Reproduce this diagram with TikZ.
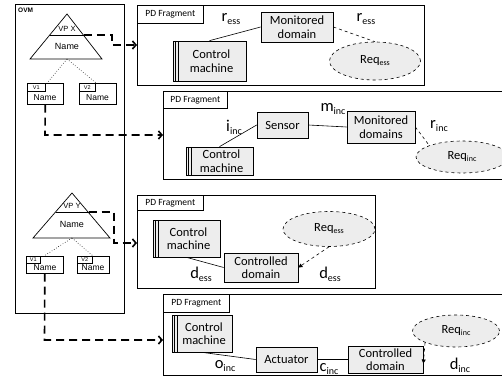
\documentclass[tikz,border=0pt]{standalone}
\usepackage{fontspec}
\setmainfont{Carlito}
\newfontfamily\ovmfont{Liberation Sans}
\usetikzlibrary{shapes.geometric,arrows.meta}
\newcommand\pdlab[2]{{\fontsize{16.5}{18}\selectfont #1}{\fontsize{10}{11}\selectfont\raisebox{-3pt}{#2}}}
\newcommand\reqlab[1]{Req{\fontsize{8}{9}\selectfont\raisebox{-2pt}{#1}}}
\begin{document}
\begin{tikzpicture}[x=1pt,y=-1pt,
  dom/.style={draw, fill=black!7, line width=0.7pt, inner sep=0.5pt, align=center,
    font=\fontsize{12.5}{13.5}\selectfont},
  mach/.style={dom, path picture={
    \draw[line width=0.6pt] ([xshift=2.6pt]path picture bounding box.north west) -- ([xshift=2.6pt]path picture bounding box.south west);
    \draw[line width=0.6pt] ([xshift=5.2pt]path picture bounding box.north west) -- ([xshift=5.2pt]path picture bounding box.south west);}},
  req/.style={ellipse, draw, dashed, fill=black!7, line width=0.6pt, inner sep=0pt,
    font=\fontsize{12.5}{14}\selectfont},
  frag/.style={draw, line width=0.8pt, anchor=north west, inner sep=0pt},
  fraglab/.style={draw, line width=0.6pt, anchor=north west, inner sep=0pt,
    font=\fontsize{9.5}{11}\selectfont},
  lab/.style={inner sep=0pt},
  link/.style={line width=0.6pt},
  dlink/.style={line width=0.6pt, dashed},
  darr/.style={line width=0.6pt, dashed, -{Triangle[length=4pt,width=4pt]}},
  big/.style={line width=1.6pt, dash pattern=on 8pt off 5pt, -{Straight Barb[length=3.5pt,width=8pt]}},
  vbox/.style={draw, line width=0.6pt, anchor=north west, inner sep=0pt},
  vtag/.style={draw, line width=0.5pt, anchor=north west, inner sep=0pt, font=\ovmfont\fontsize{5.5}{6}\selectfont},
  otext/.style={inner sep=0pt, font=\ovmfont\fontsize{8.5}{10}\selectfont},
  vdot/.style={dotted, line width=0.6pt}
]
\useasboundingbox (0,0) rectangle (502,387);

% ---------------- OVM ----------------
\node (ovm) [vbox, line width=0.8pt, minimum width=109, minimum height=309] at (15,4) {};
\node (ovmlab) [otext, anchor=north west, font=\ovmfont\bfseries\fontsize{6.5}{8}\selectfont] at (18,8) {OVM};

% triangle X
\draw[line width=0.7pt] (67,14) -- (102,59) -- (30,59) -- cycle;
\draw[line width=0.7pt] (50.2,35) -- (83.8,35);
\coordinate (vpx) at (83.8,35);
\coordinate (tx) at (67,59);
\node (vpxt) [otext, font=\ovmfont\fontsize{7.5}{8}\selectfont] at (67,28.5) {VP X};
\node (nx) [otext, font=\ovmfont\fontsize{9}{10}\selectfont] at (67,46) {Name};

\node (v1x) [vbox, minimum width=36, minimum height=21] at (27,83) {};
\node (v1xt) [vtag, minimum width=18, minimum height=8] at (27,83) {V1};
\node (v1xn) [otext] at (45,98) {Name};
\node (v2x) [vbox, minimum width=37, minimum height=21] at (79,83) {};
\node (v2xt) [vtag, minimum width=16, minimum height=8] at (79,83) {V2};
\node (v2xn) [otext] at (97.5,98) {Name};
\draw[vdot] (tx) -- (47,83);
\draw[vdot] (tx) -- (96,83);

% triangle Y
\draw[line width=0.7pt] (72,193) -- (110,238) -- (33,238) -- cycle;
\draw[line width=0.7pt] (55.5,212) -- (88.5,212);
\coordinate (vpy) at (88.5,212);
\coordinate (ty) at (72,238);
\node (vpyt) [otext, font=\ovmfont\fontsize{7.5}{8}\selectfont] at (72,205.5) {VP Y};
\node (ny) [otext, font=\ovmfont\fontsize{9}{10}\selectfont] at (72,224.5) {Name};

\node (v1y) [vbox, minimum width=37, minimum height=17] at (26,256) {};
\node (v1yt) [vtag, minimum width=14, minimum height=7] at (26,256) {V1};
\node (v1yn) [otext] at (45,267.5) {Name};
\node (v2y) [vbox, minimum width=32, minimum height=17] at (77,256) {};
\node (v2yt) [vtag, minimum width=15, minimum height=7] at (77,256) {V2};
\node (v2yn) [otext] at (93,267.5) {Name};
\draw[vdot] (ty) -- (44,256);
\draw[vdot] (ty) -- (93,256);

% ---------------- PD fragments ----------------
\node (pd1) [frag, minimum width=287, minimum height=80] at (137,5) {};
\node (pd1l) [fraglab, minimum width=66, minimum height=18] at (137,5) {PD Fragment};
\node (pd2) [frag, minimum width=342, minimum height=88] at (163,91) {};
\node (pd2l) [fraglab, minimum width=64, minimum height=17] at (163,91) {PD Fragment};
\node (pd3) [frag, minimum width=238, minimum height=93] at (137,195) {};
\node (pd3l) [fraglab, minimum width=66, minimum height=15] at (137,195) {PD Fragment};
\node (pd4) [frag, minimum width=342, minimum height=81] at (163,294) {};
\node (pd4l) [fraglab, minimum width=66, minimum height=18] at (163,294) {PD Fragment};

% PD1
\node (md1) [dom, minimum width=72, minimum height=30] at (297,27) {Monitored\\domain};
\node (cm1) [mach, minimum width=73, minimum height=40] at (209.5,61) {\hspace{4pt}Control\\\hspace{4pt}machine};
\node (rq1) [req, minimum width=91, minimum height=38] at (375,61) {\reqlab{ess}};
\node (r1a) [lab] at (231,19) {\pdlab{r}{ess}};
\node (r1b) [lab] at (366,19) {\pdlab{r}{ess}};
\draw[link] (cm1.north) -- (md1.west);
\draw[dlink] (md1.east) -- (rq1.north);

% PD2
\node (sens) [dom, minimum width=51, minimum height=26] at (282.5,125) {Sensor};
\node (md2) [dom, minimum width=68, minimum height=32] at (381,127) {Monitored\\domains};
\node (cm2) [mach, minimum width=67, minimum height=28] at (219.5,161) {\hspace{4pt}Control\\\hspace{4pt}machine};
\node (rq2) [req, minimum width=92, minimum height=32] at (462,157) {\reqlab{inc}};
\node (i2) [lab] at (234,127) {\pdlab{i}{inc}};
\node (m2) [lab] at (333,109) {\pdlab{m}{inc}};
\node (r2) [lab] at (439,126) {\pdlab{r}{inc}};
\draw[link] (cm2.north) -- (sens.west);
\draw[link] (sens.east) -- (md2.west);
\draw[dlink] (md2.east) -- (rq2.north west);

% PD3
\node (cm3) [mach, minimum width=67, minimum height=37] at (186.5,238.5) {\hspace{4pt}Control\\\hspace{4pt}machine};
\node (cd3) [dom, minimum width=74, minimum height=29] at (261,267.5) {Controlled\\domain};
\node (rq3) [req, minimum width=92, minimum height=35] at (329,229) {\reqlab{ess}};
\node (d3a) [lab] at (201,274) {\pdlab{d}{ess}};
\node (d3b) [lab] at (330,274) {\pdlab{d}{ess}};
\draw[link] (cm3.south) -- (cd3.west);
\draw[darr] (rq3.south) -- (cd3.east);

% PD4
\node (cm4) [mach, minimum width=60, minimum height=37] at (202,333.5) {\hspace{4pt}Control\\\hspace{4pt}machine};
\node (act) [dom, minimum width=61, minimum height=25] at (286.5,359.5) {Actuator};
\node (cd4) [dom, minimum width=75, minimum height=27] at (385.5,359.5) {Controlled\\domain};
\node (rq4) [req, minimum width=87, minimum height=32] at (456,331) {\reqlab{inc}};
\node (o4) [lab] at (225,366) {\pdlab{o}{inc}};
\node (c4l) [lab] at (329,369) {\pdlab{c}{inc}};
\node (d4) [lab] at (460,365) {\pdlab{d}{inc}};
\draw[link] (cm4.south) -- (act.west);
\draw[link] (act.east) -- (cd4.west);
\draw[darr] (rq4.south west) -- ([yshift=-4pt]cd4.east);

% ---------------- OVM to PD connectors ----------------
\coordinate (b1) at (112,45);
\draw[big] (vpx) -| (b1) -- (b1 -| pd1.west);
\coordinate (b2) at (45,135);
\draw[big] (v1x.south) -- (b2) -- (b2 -| pd2.west);
\coordinate (b3) at (114,243);
\draw[big] (vpy) -| (b3) -- (b3 -| pd3.west);
\coordinate (b4) at (44.5,340);
\draw[big] (v1y.south) -- (b4) -- (b4 -| pd4.west);
\end{tikzpicture}
\end{document}
